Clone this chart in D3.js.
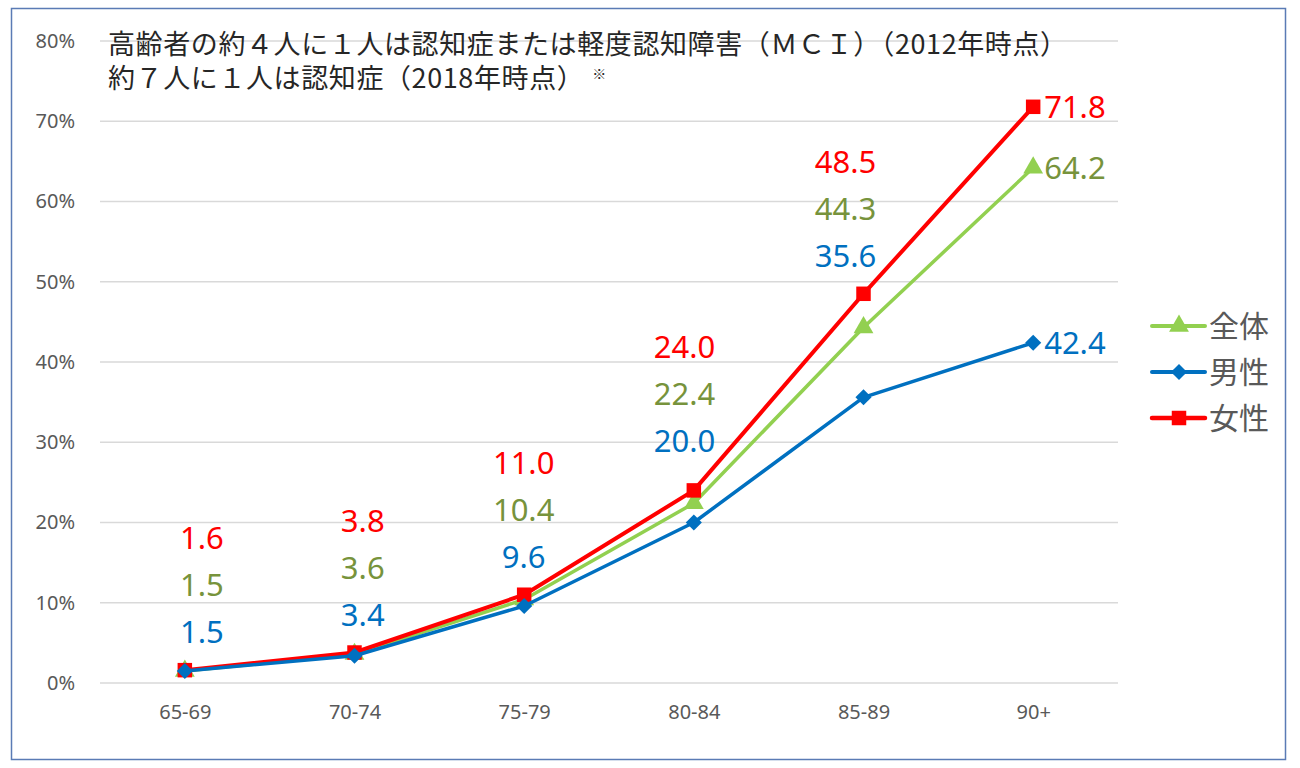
<!DOCTYPE html>
<html>
<head>
<meta charset="utf-8">
<script src="https://cdn.jsdelivr.net/npm/d3@7"></script>
<style>
    body { margin: 0; background: #fff; }
    svg text { font-family: "Noto Sans", "Noto Sans CJK JP", sans-serif; }
</style>
</head>
<body>
<div id="chart"></div>
<script>
// Data
const ageGroups = ["65-69", "70-74", "75-79", "80-84", "85-89", "90+"];
const totalRates = [1.5, 3.6, 10.4, 22.4, 44.3, 64.2];
const maleRates = [1.5, 3.4, 9.6, 20.0, 35.6, 42.4];
const femaleRates = [1.6, 3.8, 11.0, 24.0, 48.5, 71.8];
const yTicks = [0, 10, 20, 30, 40, 50, 60, 70, 80];
const titleLines = ["高齢者の約４人に１人は認知症または軽度認知障害（ＭＣＩ）（2012年時点）", "約７人に１人は認知症（2018年時点）"];

const series = [
    { name: "全体", values: totalRates, line: "#92D050", text: "#77933C", marker: "triangle", width: 3.5 },
    { name: "男性", values: maleRates, line: "#0070C0", text: "#0070C0", marker: "diamond", width: 3.5 },
    { name: "女性", values: femaleRates, line: "#FF0000", text: "#FF0000", marker: "square", width: 4 }
];

const W = 1300, H = 768;
const svg = d3.select("#chart").append("svg")
    .attr("width", W)
    .attr("height", H);

// outer frame
svg.append("rect")
    .attr("x", 11.5).attr("y", 8.5)
    .attr("width", 1274).attr("height", 751)
    .attr("fill", "none")
    .attr("stroke", "#5a7bb5")
    .attr("stroke-width", 1.5);

const x = d3.scalePoint()
    .domain(ageGroups)
    .range([100, 1118])
    .padding(0.5);

const y = d3.scaleLinear()
    .domain([0, 80])
    .range([683, 41]);

// gridlines
svg.append("g")
    .selectAll("line")
    .data(yTicks)
    .join("line")
    .attr("x1", 100).attr("x2", 1118)
    .attr("y1", d => y(d)).attr("y2", d => y(d))
    .attr("stroke", "#d9d9d9")
    .attr("stroke-width", 1.5);

// Y axis
const yAxis = svg.append("g")
    .attr("transform", "translate(100,0)")
    .call(d3.axisLeft(y).tickValues(yTicks).tickFormat(d => d + "%").tickSize(0).tickPadding(25));
yAxis.select(".domain").remove();
yAxis.selectAll("text")
    .attr("fill", "#595959")
    .style("font-size", "20px");

// X axis
const xAxis = svg.append("g")
    .attr("transform", "translate(0,683)")
    .call(d3.axisBottom(x).tickSize(0).tickPadding(22));
xAxis.select(".domain").remove();
xAxis.selectAll("text")
    .attr("fill", "#595959")
    .style("font-size", "20px");

// Title
const title = svg.append("g")
    .attr("fill", "#262626");
title.append("text")
    .attr("x", 108).attr("y", 54)
    .style("font-family", "'Noto Sans CJK JP', sans-serif")
    .style("font-size", "27px")
    .style("letter-spacing", "0.6px")
    .text(titleLines[0]);
const t2 = title.append("text")
    .attr("x", 108).attr("y", 88)
    .style("font-family", "'Noto Sans CJK JP', sans-serif")
    .style("font-size", "27px")
    .style("letter-spacing", "0.6px")
    .text(titleLines[1]);
t2.append("tspan")
    .attr("dx", 8).attr("dy", -9)
    .style("font-size", "14px")
    .text("※");

// Lines and markers
const line = d3.line()
    .x((d, i) => x(ageGroups[i]))
    .y(d => y(d));

const symbolType = {
    triangle: d3.symbolTriangle,
    diamond: d3.symbolDiamond,
    square: d3.symbolSquare
};
const symbolSize = { triangle: 170, diamond: 130, square: 210 };

const drawOrder = [series[0], series[2], series[1]];
drawOrder.forEach(s => {
    svg.append("path")
        .datum(s.values)
        .attr("d", line)
        .attr("fill", "none")
        .attr("stroke", s.line)
        .attr("stroke-width", s.width)
        .attr("stroke-linejoin", "round");
    svg.append("g")
        .selectAll("path")
        .data(s.values)
        .join("path")
        .attr("transform", (d, i) => `translate(${x(ageGroups[i])},${y(d)})` + (s.marker === "diamond" ? " rotate(45)" : ""))
        .attr("d", d3.symbol().type(s.marker === "diamond" ? d3.symbolSquare : symbolType[s.marker]).size(symbolSize[s.marker]))
        .attr("fill", s.line);
});

// Data labels: stacked above the point for all but the last group,
// drifting left as the lines get steeper
const last = ageGroups.length - 1;
ageGroups.forEach((g, i) => {
    if (i === last) return;
    const top = y(femaleRates[i]) - 132 - (i === 3 ? 12 : 0);
    const cx = x(g) + 17 - 8.75 * i;
    [series[2], series[0], series[1]].forEach((s, k) => {
        svg.append("text")
            .attr("x", cx)
            .attr("y", top + k * 47)
            .attr("dy", "0.36em")
            .attr("text-anchor", "middle")
            .attr("fill", s.text)
            .style("font-size", "31px")
            .text(s.values[i].toFixed(1));
    });
});
series.forEach(s => {
    svg.append("text")
        .attr("x", x(ageGroups[last]) + 11)
        .attr("y", y(s.values[last]))
        .attr("dy", "0.36em")
        .attr("fill", s.text)
        .style("font-size", "31px")
        .text(s.values[last].toFixed(1));
});

// Legend
const legend = svg.append("g")
    .attr("transform", "translate(1152,326)");
series.forEach((s, i) => {
    const row = legend.append("g").attr("transform", `translate(0,${i * 46})`);
    row.append("line")
        .attr("x1", 0).attr("x2", 53)
        .attr("stroke", s.line)
        .attr("stroke-width", s.width + 0.5)
        .attr("stroke-linecap", "round");
    row.append("path")
        .attr("transform", "translate(27,0)" + (s.marker === "diamond" ? " rotate(45)" : ""))
        .attr("d", d3.symbol().type(s.marker === "diamond" ? d3.symbolSquare : symbolType[s.marker]).size(symbolSize[s.marker]))
        .attr("fill", s.line);
    row.append("text")
        .attr("x", 57)
        .attr("dy", "0.36em")
        .attr("fill", "#595959")
        .style("font-family", "'Noto Sans CJK JP', sans-serif")
        .style("font-size", "30px")
        .text(s.name);
});
</script>
</body>
</html>
